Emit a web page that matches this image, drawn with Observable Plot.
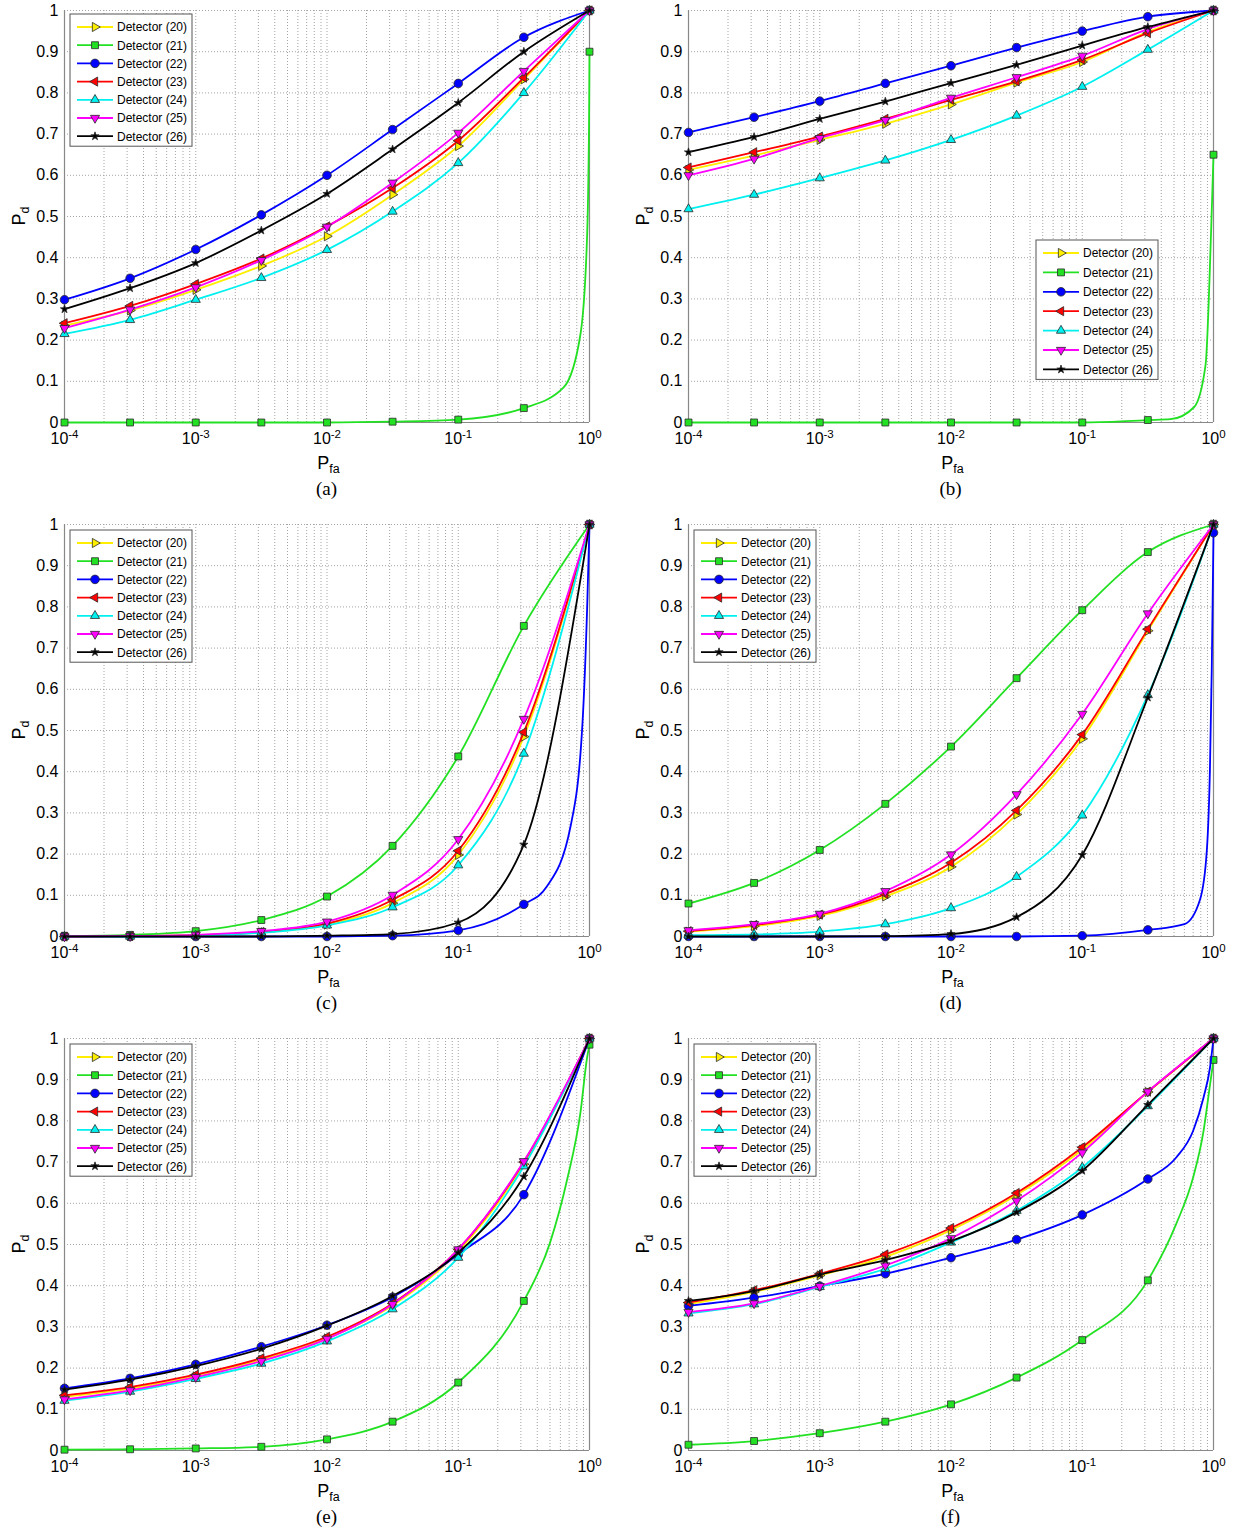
<!DOCTYPE html>
<html><head><meta charset="utf-8">
<script src="https://cdn.jsdelivr.net/npm/d3@7"></script>
<script src="https://cdn.jsdelivr.net/npm/@observablehq/plot@0.6"></script>
<style>
body{margin:0;background:#fff;}
#wrap{position:relative;width:1236px;height:1534px;background:#fff;overflow:hidden;}
.panel{position:absolute;width:620px;height:500px;}
.panel svg{max-width:none !important;display:block;}
</style></head><body><div id="wrap"></div>
<script>
// ---------- DATA ----------
const pfa = [0.0001, 0.000316, 0.001, 0.00316, 0.01, 0.0316, 0.1, 0.316, 1];
const yTicks = [0, 0.1, 0.2, 0.3, 0.4, 0.5, 0.6, 0.7, 0.8, 0.9, 1];
const xTicks = [0.0001, 0.001, 0.01, 0.1, 1];
const xTickLabels = ["10^-4", "10^-3", "10^-2", "10^-1", "10^0"];
const detectorNames = ["Detector (20)", "Detector (21)", "Detector (22)", "Detector (23)", "Detector (24)", "Detector (25)", "Detector (26)"];
const panelLetters = ["(a)", "(b)", "(c)", "(d)", "(e)", "(f)"];

// panel (a)
const A20 = [0.235, 0.272, 0.322, 0.38, 0.452, 0.553, 0.671, 0.833, 1];
const A21 = [0, 0, 0, 0, 0, 0.002, 0.007, 0.035, 0.9];
const A22 = [0.298, 0.35, 0.42, 0.504, 0.60, 0.711, 0.823, 0.935, 1];
const A23 = [0.241, 0.283, 0.336, 0.398, 0.476, 0.569, 0.684, 0.837, 1];
const A24 = [0.215, 0.249, 0.298, 0.351, 0.419, 0.512, 0.63, 0.80, 1];
const A25 = [0.229, 0.274, 0.328, 0.394, 0.475, 0.582, 0.703, 0.853, 1];
const A26 = [0.275, 0.326, 0.387, 0.466, 0.555, 0.663, 0.776, 0.90, 1];
const A21tail = [[0.635, 0.085], [0.855, 0.216], [0.96, 0.458], [0.995, 0.78]];

// panel (b)
const B20 = [0.613, 0.648, 0.686, 0.725, 0.772, 0.825, 0.875, 0.948, 1];
const B21 = [0, 0, 0, 0, 0, 0, 0, 0.006, 0.65];
const B22 = [0.704, 0.741, 0.78, 0.823, 0.866, 0.91, 0.95, 0.985, 1];
const B23 = [0.619, 0.656, 0.694, 0.737, 0.783, 0.828, 0.88, 0.945, 1];
const B24 = [0.518, 0.553, 0.593, 0.636, 0.686, 0.745, 0.815, 0.905, 1];
const B25 = [0.60, 0.64, 0.69, 0.734, 0.788, 0.838, 0.89, 0.955, 1];
const B26 = [0.656, 0.693, 0.737, 0.779, 0.824, 0.868, 0.915, 0.96, 1];
const B21tail = [[0.47, 0.008], [0.71, 0.037], [0.87, 0.14], [0.96, 0.47]];

// panel (c)
const C20 = [0, 0.001, 0.003, 0.010, 0.029, 0.081, 0.198, 0.485, 1];
const C21 = [0.001, 0.004, 0.013, 0.040, 0.097, 0.22, 0.437, 0.754, 1];
const C22 = [0, 0, 0, 0, 0, 0.002, 0.015, 0.078, 1];
const C23 = [0, 0.001, 0.003, 0.011, 0.031, 0.089, 0.208, 0.496, 1];
const C24 = [0, 0, 0.002, 0.009, 0.027, 0.071, 0.173, 0.444, 1];
const C25 = [0, 0.001, 0.004, 0.013, 0.036, 0.101, 0.236, 0.528, 1];
const C26 = [0, 0, 0, 0, 0.002, 0.006, 0.034, 0.223, 1];
const C22tail = [[0.47, 0.12], [0.72, 0.27], [0.885, 0.52], [0.96, 0.8]];

// panel (d)
const D20 = [0.012, 0.025, 0.05, 0.097, 0.169, 0.296, 0.48, 0.742, 1];
const D21 = [0.08, 0.13, 0.21, 0.322, 0.461, 0.627, 0.792, 0.933, 1];
const D22 = [0, 0, 0, 0, 0, 0, 0.002, 0.016, 0.98];
const D23 = [0.013, 0.028, 0.053, 0.103, 0.179, 0.306, 0.49, 0.746, 1];
const D24 = [0.003, 0.005, 0.012, 0.03, 0.069, 0.145, 0.294, 0.586, 1];
const D25 = [0.015, 0.03, 0.055, 0.11, 0.199, 0.345, 0.54, 0.784, 1];
const D26 = [0, 0, 0, 0.001, 0.006, 0.047, 0.198, 0.58, 1];
const D22tail = [[0.6, 0.03], [0.79, 0.09], [0.89, 0.21], [0.94, 0.41], [0.97, 0.65]];

// panel (e)
const E20 = [0.13, 0.15, 0.18, 0.22, 0.272, 0.352, 0.483, 0.695, 1];
const E21 = [0.002, 0.003, 0.005, 0.009, 0.027, 0.07, 0.165, 0.363, 0.985];
const E22 = [0.151, 0.175, 0.209, 0.252, 0.304, 0.372, 0.476, 0.621, 1];
const E23 = [0.134, 0.154, 0.184, 0.224, 0.276, 0.357, 0.488, 0.70, 1];
const E24 = [0.121, 0.143, 0.174, 0.211, 0.265, 0.343, 0.468, 0.69, 1];
const E25 = [0.124, 0.146, 0.178, 0.217, 0.271, 0.355, 0.488, 0.702, 1];
const E26 = [0.148, 0.172, 0.205, 0.247, 0.303, 0.375, 0.48, 0.665, 1];
const E21tail = [[0.5, 0.504], [0.675, 0.657], [0.853, 0.82], [0.96, 0.955]];

// panel (f)
const F20 = [0.355, 0.385, 0.425, 0.47, 0.535, 0.62, 0.73, 0.87, 1];
const F21 = [0.014, 0.023, 0.042, 0.07, 0.112, 0.177, 0.268, 0.413, 0.948];
const F22 = [0.351, 0.371, 0.399, 0.429, 0.468, 0.512, 0.572, 0.659, 1];
const F23 = [0.359, 0.389, 0.429, 0.476, 0.54, 0.625, 0.736, 0.871, 1];
const F24 = [0.333, 0.355, 0.397, 0.441, 0.505, 0.582, 0.687, 0.836, 1];
const F25 = [0.336, 0.357, 0.399, 0.449, 0.515, 0.606, 0.723, 0.871, 1];
const F26 = [0.363, 0.387, 0.427, 0.462, 0.508, 0.578, 0.679, 0.839, 1];
const F21tail = [[0.52, 0.55], [0.70, 0.663], [0.84, 0.776], [0.94, 0.887]];
const F22tail = [[0.52, 0.711], [0.70, 0.776], [0.84, 0.857], [0.94, 0.929]];

// ---------- STYLE ----------
function tri(ang) {
  return {draw(ctx, size) {
    const R = Math.sqrt(size / 1.299);
    for (let k = 0; k < 3; k++) {
      const a = ang + k * 2 * Math.PI / 3;
      const x = R * Math.cos(a), y = R * Math.sin(a);
      if (k) ctx.lineTo(x, y); else ctx.moveTo(x, y);
    }
    ctx.closePath();
  }};
}
const styles = [
  {color: "#ffee00", symbol: tri(0), r: 3.4},
  {color: "#22e022", symbol: d3.symbolSquare, r: 3.9},
  {color: "#0000ff", symbol: d3.symbolCircle, r: 4.3},
  {color: "#ff0000", symbol: tri(Math.PI), r: 3.4},
  {color: "#00f0f0", symbol: tri(-Math.PI / 2), r: 3.4},
  {color: "#ff00ff", symbol: tri(Math.PI / 2), r: 3.4},
  {color: "#000000", symbol: d3.symbolStar, r: 2.6}
];

const panels = [
  {series: [A20, A21, A22, A23, A24, A25, A26], tails: {1: A21tail}, legend: {x: 70, first: 27, step: 18.2}},
  {series: [B20, B21, B22, B23, B24, B25, B26], tails: {1: B21tail}, legend: {x: 412, first: 253, step: 19.4}},
  {series: [C20, C21, C22, C23, C24, C25, C26], tails: {2: C22tail}, legend: {x: 70, first: 29, step: 18.2}},
  {series: [D20, D21, D22, D23, D24, D25, D26], tails: {2: D22tail}, legend: {x: 70, first: 29, step: 18.2}},
  {series: [E20, E21, E22, E23, E24, E25, E26], tails: {1: E21tail}, legend: {x: 70, first: 29, step: 18.2}},
  {series: [F20, F21, F22, F23, F24, F25, F26], tails: {1: F21tail, 2: F22tail}, legend: {x: 70, first: 29, step: 18.2}}
];

const W = 620, H = 500, ML = 64, MR = 31, MT = 10, MB = 78;
const rowTop = [0, 514, 1028];
const colLeft = [0, 624];
const gridX = d3.scaleLog().domain([1e-4, 1]).ticks();
const FONT = "'Liberation Sans', Arial, Helvetica, sans-serif";

const wrap = document.getElementById("wrap");

panels.forEach((p, pi) => {
  const marks = [
    Plot.ruleX(gridX, {stroke: "#9a9a9a", strokeDasharray: "1,2", strokeWidth: 0.9}),
    Plot.ruleY(yTicks, {stroke: "#9a9a9a", strokeDasharray: "1,2", strokeWidth: 0.9}),
    Plot.ruleX([1e-4, 1], {stroke: "#888", strokeWidth: 1.2}),
    Plot.ruleY([0], {stroke: "#888", strokeWidth: 1.2}),
    Plot.axisX({ticks: xTicks, tickFormat: d => xTickLabels[xTicks.indexOf(d)], tickSize: 0, tickPadding: 10, label: null, fontSize: 16}),
    Plot.axisY({ticks: yTicks, tickFormat: d => String(+d.toFixed(1)), tickSize: 0, tickPadding: 6, label: null, fontSize: 16})
  ];
  p.series.forEach((vals, si) => {
    const st = styles[si];
    const pts = pfa.map((x, i) => ({x, y: vals[i]}));
    let linePts = pts;
    if (p.tails[si]) {
      linePts = pts.concat(p.tails[si].map(([x, y]) => ({x, y}))).sort((a, b) => a.x - b.x);
    }
    marks.push(Plot.line(linePts, {x: "x", y: "y", stroke: st.color, strokeWidth: 1.8, curve: "monotone-x"}));
    marks.push(Plot.dot(pts, {x: "x", y: "y", symbol: st.symbol, r: st.r, fill: st.color, stroke: "#2a2a2a", strokeWidth: 0.8}));
  });
  const chart = Plot.plot({
    width: W, height: H, marginLeft: ML, marginRight: MR, marginTop: MT, marginBottom: MB,
    x: {type: "log", domain: [1e-4, 1]},
    y: {domain: [0, 1]},
    style: {fontFamily: FONT, fontSize: "16px", color: "#000", background: "#fff", overflow: "visible", maxWidth: "none"},
    marks
  });
  const svg = d3.select(chart);
  svg.style("max-width", "none").style("width", W + "px").style("height", H + "px");
  // superscripts on x tick labels
  svg.selectAll('g[aria-label="x-axis tick label"] text').each(function() {
    const t = this.textContent;
    if (!t.includes("^")) return;
    const [base, exp] = t.split("^");
    const el = d3.select(this);
    el.text("");
    el.append("tspan").text(base);
    el.append("tspan").attr("dy", "-0.55em").attr("font-size", "11.5px").text(exp);
  });
  const cx = (ML + (W - MR)) / 2, cy = (MT + (H - MB)) / 2;
  // x label P_fa
  const xl = svg.append("text").attr("x", cx + 2).attr("y", H - MB + 47).attr("text-anchor", "middle")
    .attr("font-family", FONT).attr("font-size", "18px").attr("fill", "#000");
  xl.append("tspan").text("P");
  xl.append("tspan").attr("dy", "4").attr("font-size", "12.5px").text("fa");
  // y label P_d
  const yl = svg.append("text").attr("transform", `translate(25,${cy}) rotate(-90)`).attr("text-anchor", "middle")
    .attr("font-family", FONT).attr("font-size", "18px").attr("fill", "#000");
  yl.append("tspan").text("P");
  yl.append("tspan").attr("dy", "4").attr("font-size", "12.5px").text("d");
  // caption
  svg.append("text").attr("x", cx).attr("y", H - MB + 73).attr("text-anchor", "middle")
    .attr("font-family", "'Liberation Serif', 'Times New Roman', serif").attr("font-size", "19px").attr("fill", "#000")
    .text(panelLetters[pi]);
  // legend
  const L = p.legend;
  const n = detectorNames.length;
  const boxTop = L.first - 13, boxBot = L.first + (n - 1) * L.step + 10;
  const lg = svg.append("g").attr("text-anchor", "start");
  lg.append("rect").attr("x", L.x).attr("y", boxTop).attr("width", 122).attr("height", boxBot - boxTop)
    .attr("fill", "#fff").attr("stroke", "#555").attr("stroke-width", 1);
  detectorNames.forEach((name, i) => {
    const st = styles[i];
    const y = L.first + i * L.step;
    lg.append("line").attr("x1", L.x + 7).attr("x2", L.x + 43).attr("y1", y).attr("y2", y)
      .attr("stroke", st.color).attr("stroke-width", 1.8);
    lg.append("path").attr("transform", `translate(${L.x + 25},${y})`)
      .attr("d", d3.symbol(st.symbol, Math.PI * st.r * st.r)())
      .attr("fill", st.color).attr("stroke", "#2a2a2a").attr("stroke-width", 0.8);
    lg.append("text").attr("x", L.x + 47).attr("y", y).attr("dy", "0.36em").attr("text-anchor", "start")
      .attr("font-family", FONT).attr("font-size", "12px").attr("fill", "#000").text(name);
  });
  const div = document.createElement("div");
  div.className = "panel";
  div.style.left = colLeft[pi % 2] + "px";
  div.style.top = rowTop[Math.floor(pi / 2)] + "px";
  div.appendChild(chart);
  wrap.appendChild(div);
});
</script></body></html>
